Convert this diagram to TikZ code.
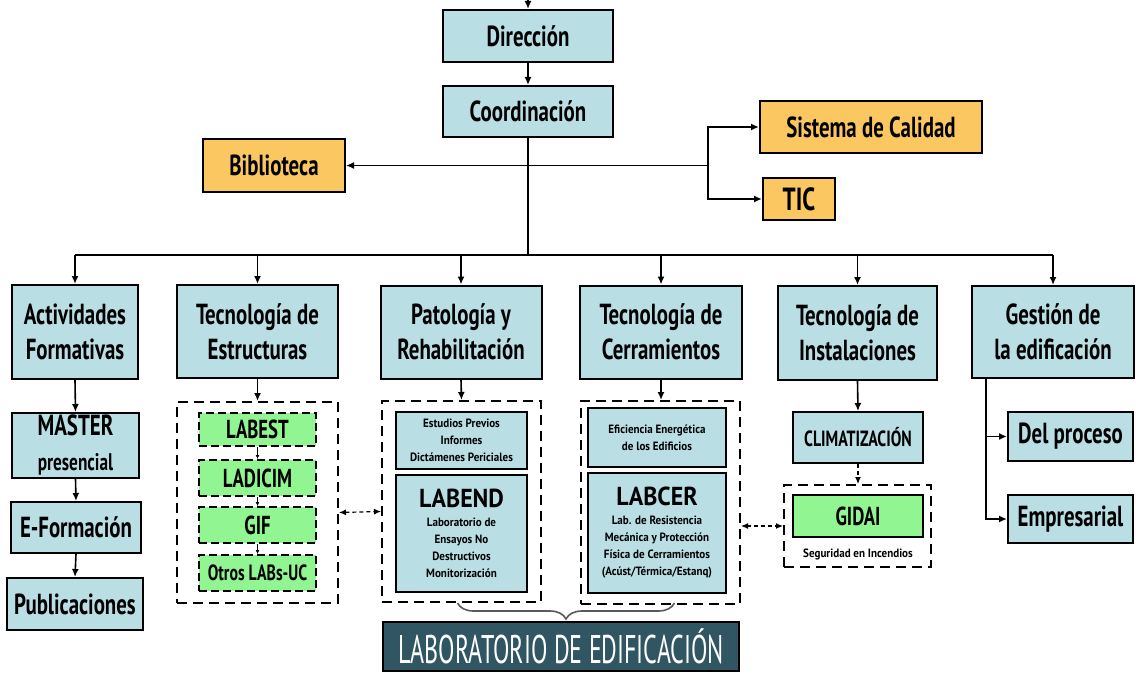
\documentclass[tikz,border=0pt]{standalone}
\usepackage{fontspec}
\setmainfont[FakeStretch=0.72]{PT Sans}
\newfontfamily\thinfont[FakeStretch=0.6]{PT Sans}
\newfontfamily\smallfont[FakeStretch=0.92]{PT Sans}
\usepackage{tikz}
\usetikzlibrary{arrows.meta}
\usetikzlibrary{calc}
\usetikzlibrary{decorations.pathreplacing}
\definecolor{boxblue}{RGB}{185,223,229}
\definecolor{boxorange}{RGB}{251,199,96}
\definecolor{boxgreen}{RGB}{145,245,145}
\definecolor{boxdark}{RGB}{48,86,99}

\begin{document}
\begin{tikzpicture}[x=0.5pt, y=-0.5pt,
        every node/.style={font=\bfseries\fontsize{14.5}{17.5}\selectfont, align=center, inner sep=1pt},
        unit/.style={draw, line width=1pt, fill=boxblue},
        extra/.style={draw, line width=1pt, fill=boxorange},
        lab/.style={draw, line width=1pt, dash pattern=on 4pt off 2pt, fill=boxgreen},
        group/.style={draw, line width=1pt, dash pattern=on 5pt off 3pt},
        fine/.style={font=\smallfont\bfseries\fontsize{6}{8.5}\selectfont},
        line/.style={line width=0.8pt},
        arr/.style={line width=0.8pt, -{Latex[length=4pt, width=3.5pt]}},
        tinyarr/.style={line width=0.4pt, -{Latex[length=2pt, width=2pt]}},
        dasharr/.style={line width=0.6pt, dash pattern=on 2pt off 1.5pt, -{Latex[length=3.5pt, width=3pt]}},
        dblarr/.style={line width=0.6pt, dash pattern=on 2pt off 1.5pt, {Latex[length=3.5pt, width=3pt]}-{Latex[length=3.5pt, width=3pt]}}]
    \useasboundingbox (0,0) rectangle (1136,674);
    \coordinate (top) at (528,0);
    \node[unit, minimum width=85pt, minimum height=26pt] (dir) at (528,36) {Dirección};
    \node[unit, minimum width=85pt, minimum height=25.5pt] (coord) at (528,111.5) {Coordinación};
    \node[extra, minimum width=71pt, minimum height=26.5pt] (bib) at (274,165.5) {Biblioteca};
    \node[extra, minimum width=111pt, minimum height=26pt] (cal) at (871,127) {Sistema de Calidad};
    \node[extra, minimum width=36pt, minimum height=21pt, font=\bfseries\fontsize{16}{18}\selectfont] (tic) at (799,199) {TIC};
    \coordinate (split) at (708,165.5);
    \coordinate (bus) at (528,255);

    \node[unit, minimum width=63pt, minimum height=47pt] (act) at (75,332) {Actividades\\Formativas};
    \node[unit, minimum width=80.5pt, minimum height=46.5pt] (est) at (257.5,331.5) {Tecnología de\\Estructuras};
    \node[unit, minimum width=80.5pt, minimum height=46.5pt] (pat) at (461,332) {Patología y\\Rehabilitación};
    \node[unit, minimum width=81pt, minimum height=46.5pt] (cer) at (661,332) {Tecnología de\\Cerramientos};
    \node[unit, minimum width=79.5pt, minimum height=47pt] (ins) at (857.5,333) {Tecnología de\\Instalaciones};
    \node[unit, minimum width=81pt, minimum height=46pt] (ges) at (1053,332) {Gestión de\\la edificación};

    \node[unit, minimum width=63.5pt, minimum height=32.5pt] (master) at (75.5,445.5) {MASTER\\{\fontsize{12}{12}\selectfont presencial}};
    \node[unit, minimum width=65pt, minimum height=25.5pt] (eform) at (76,527.5) {E-Formación};
    \node[unit, minimum width=68pt, minimum height=26pt] (pub) at (75,604) {Publicaciones};

    \node[group, minimum width=80.5pt, minimum height=100.5pt] (estgroup) at (257.5,502.5) {};
    \node[lab, minimum width=58.5pt, minimum height=16.5pt, font=\bfseries\fontsize{13}{15}\selectfont] (labest) at (257.5,429.5) {LABEST};
    \node[lab, minimum width=58.5pt, minimum height=18pt, font=\bfseries\fontsize{13}{15}\selectfont] (ladicim) at (257.5,478) {LADICIM};
    \node[lab, minimum width=58.5pt, minimum height=18pt, font=\bfseries\fontsize{13}{15}\selectfont] (gif) at (257.5,525) {GIF};
    \node[lab, minimum width=58.5pt, minimum height=18pt, font=\bfseries\fontsize{11}{13}\selectfont] (otros) at (257.5,573) {Otros LABs-UC};

    \node[group, minimum width=79.5pt, minimum height=100.5pt] (patgroup) at (461.5,501.5) {};
    \node[unit, fine, minimum width=65.5pt, minimum height=28.5pt] (estudios) at (461.5,440.5) {Estudios Previos\\Informes\\Dictámenes Periciales};
    \node[unit, fine, minimum width=65.5pt, minimum height=58.5pt] (labend) at (461.5,533.5) {{\fontsize{13}{15}\selectfont LABEND}\\[1pt]Laboratorio de\\Ensayos No\\Destructivos\\Monitorización};

    \node[group, minimum width=79.5pt, minimum height=101.5pt] (cergroup) at (660.5,502.5) {};
    \node[unit, fine, minimum width=69pt, minimum height=29.5pt] (efic) at (657,437.5) {Eficiencia Energética\\de los Edificios};
    \node[unit, fine, minimum width=69pt, minimum height=60pt] (labcer) at (657,533) {{\fontsize{13}{15}\selectfont LABCER}\\[1pt]Lab. de Resistencia\\Mecánica y Protección\\Física de Cerramientos\\(Acúst/Térmica/Estanq)};

    \node[unit, minimum width=65pt, minimum height=25.5pt, font=\bfseries\fontsize{11}{13}\selectfont] (clim) at (858,437.5) {CLIMATIZACIÓN};
    \node[group, minimum width=73.5pt, minimum height=41pt] (gidaigroup) at (857.5,526) {};
    \node[lab, solid, minimum width=65pt, minimum height=21pt, font=\bfseries\fontsize{13}{15}\selectfont] (gidai) at (858,516) {GIDAI};
    \node[fine] (seguridad) at (858,554) {Seguridad en Incendios};

    \node[unit, minimum width=62.5pt, minimum height=24.5pt] (delproc) at (1070.5,436.5) {Del proceso};
    \node[unit, minimum width=62.5pt, minimum height=24pt] (empres) at (1070.5,519) {Empresarial};
    \coordinate (gtop) at ($(ges.south west)+(15,0)$);

    \node[draw, line width=1pt, fill=boxdark, text=white, minimum width=178pt, minimum height=24.5pt, font=\thinfont\fontsize{20}{22}\selectfont] (edif) at (561,646) {LABORATORIO DE EDIFICACIÓN};

    \draw[arr] (top) -- (dir.north);
    \draw[arr] (dir.south) -- (coord.south |- coord.north);
    \draw[line] (coord.south) -- (bus);
    \draw[arr] (coord.south |- bib.east) -- (bib.east);
    \draw[line] (coord.south |- bib.east) -- (split);
    \draw[arr] (split) |- (cal.west);
    \draw[arr] (split) |- (tic.west);
    \draw[line] (bus -| act.north) -- (bus -| ges.north);
    \foreach \n in {act,est,pat,cer,ins,ges}
        \draw[arr] (bus -| \n.north) -- (\n.north);

    \draw[arr] (act.south) -- (master.north);
    \draw[arr] (master.south) -- (eform.north);
    \draw[arr] (eform.south) -- (pub.north);

    \draw[arr] (est.south) -- (estgroup.north);
    \draw[tinyarr] (labest.south) -- (ladicim.north);
    \draw[tinyarr] (ladicim.south) -- (gif.north);
    \draw[tinyarr] (gif.south) -- (otros.north);

    \draw[arr] (pat.south) -- (patgroup.north);
    \draw[arr] (cer.south) -- (cer.south |- cergroup.north);
    \draw[arr] (ins.south) -- (clim.north);
    \draw[dasharr] (clim.south) -- (clim.south |- gidaigroup.north);

    \draw[arr] (gtop) |- (empres.west);
    \draw[arr] (gtop |- delproc.west) -- (delproc.west);

    \draw[dblarr] ([yshift=-5pt]estgroup.east) -- ([yshift=-5pt]patgroup.west);
    \draw[dblarr] (cergroup.east |- gidaigroup.west) -- (gidaigroup.west);

    \draw[decorate, decoration={brace, mirror, amplitude=8pt}, line width=0.8pt, black!65] ([xshift=-2pt]patgroup.south) -- ([xshift=7pt]patgroup.south -| cergroup.south);
\end{tikzpicture}
\end{document}
